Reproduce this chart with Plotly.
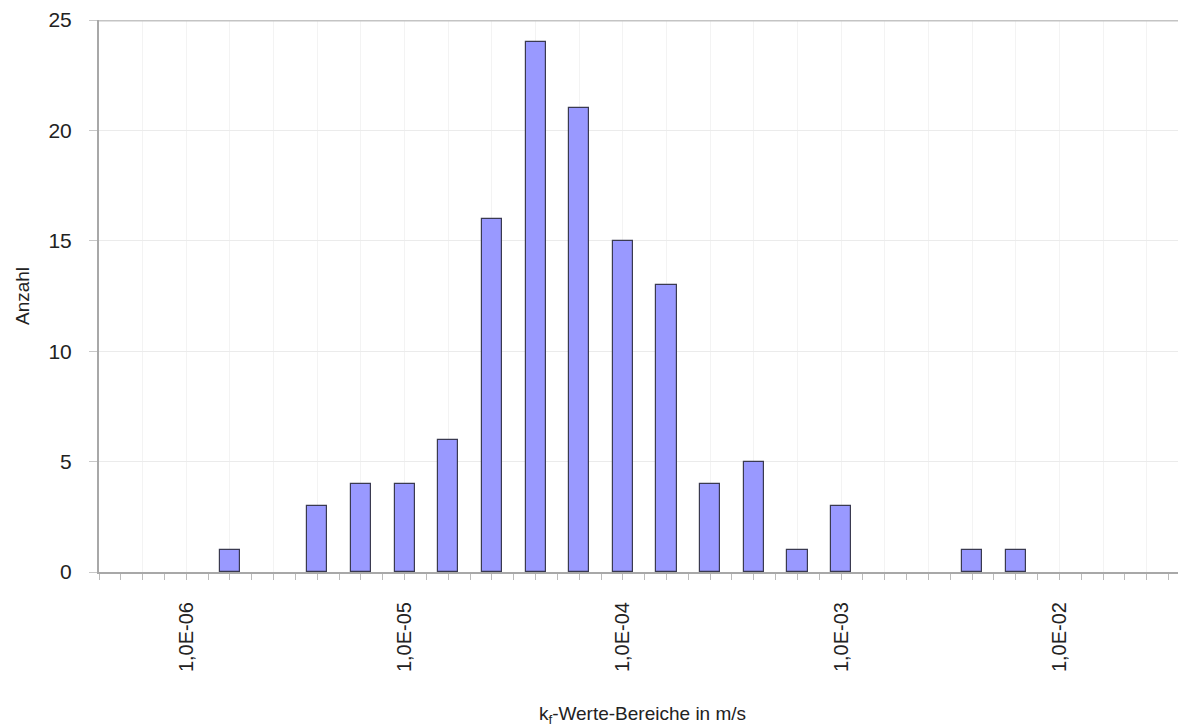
import plotly.graph_objects as go

# bin centres as log10(kf) and counts
bin_exponents = [-5.8, -5.4, -5.2, -5.0, -4.8, -4.6, -4.4, -4.2, -4.0, -3.8, -3.6, -3.4, -3.2, -3.0, -2.4, -2.2]
counts = [1, 3, 4, 4, 6, 16, 24, 21, 15, 13, 4, 5, 1, 3, 1, 1]
decade_exponents = [-6, -5, -4, -3, -2]
decade_labels = ["1,0E-06", "1,0E-05", "1,0E-04", "1,0E-03", "1,0E-02"]
y_ticks = [0, 5, 10, 15, 20, 25]

x_min, x_max = -6.4, -1.42

# major ticks (with gridlines) every 0.2 decade; label only full decades
tickvals = []
ticktext = []
k = 0
while x_min + 0.2 * k <= x_max + 1e-9:
    v = round(x_min + 0.2 * k, 1)
    tickvals.append(v)
    lab = ""
    for e, t in zip(decade_exponents, decade_labels):
        if abs(v - e) < 1e-6:
            lab = t
    ticktext.append(lab)
    k += 1

font = "Liberation Sans, Arial, sans-serif"

fig = go.Figure()
fig.add_trace(go.Bar(
    x=bin_exponents, y=counts, width=0.092,
    marker=dict(color="#9999FF", line=dict(color="#3a3a50", width=1.2)),
))

fig.add_shape(type="line", xref="paper", yref="y", x0=0, x1=1, y0=25, y1=25,
              line=dict(color="#c4c4c4", width=3), layer="above")

fig.update_layout(
    width=1186, height=727,
    margin=dict(l=91, r=8, t=12, b=163),
    paper_bgcolor="white", plot_bgcolor="white",
    showlegend=False,
    font=dict(family=font, size=20, color="#222"),
    xaxis=dict(
        range=[x_min, x_max],
        automargin=False,
        tickmode="array", tickvals=tickvals, ticktext=ticktext,
        tickangle=-90,
        ticks="outside", ticklen=6, tickcolor="#bbbbbb", tickwidth=1,
        ticklabelstandoff=14,
        showgrid=True, gridcolor="#f3f3f3", gridwidth=1,
        showline=True, linecolor="#a8a8a8", linewidth=2,
        zeroline=False,
        minor=dict(dtick=0.1, tick0=x_min, ticks="outside", ticklen=6, tickcolor="#bbbbbb", showgrid=False),
        tickfont=dict(size=20, color="#222"),
        title=dict(text="k<sub>f</sub>-Werte-Bereiche in m/s", font=dict(size=19, color="#222"), standoff=36),
    ),
    yaxis=dict(
        range=[0, 25],
        automargin=False,
        tickmode="array", tickvals=y_ticks,
        ticks="outside", ticklen=8, tickcolor="#c8c8c8",
        ticklabelstandoff=13,
        showgrid=True, gridcolor="#ebebeb", gridwidth=1,
        showline=True, linecolor="#a8a8a8", linewidth=2,
        zeroline=False,
        tickfont=dict(size=21, color="#222"),
        title=dict(text="Anzahl", font=dict(size=19, color="#222"), standoff=14),
    ),
    bargap=0,
)

fig.write_html("out.html")
